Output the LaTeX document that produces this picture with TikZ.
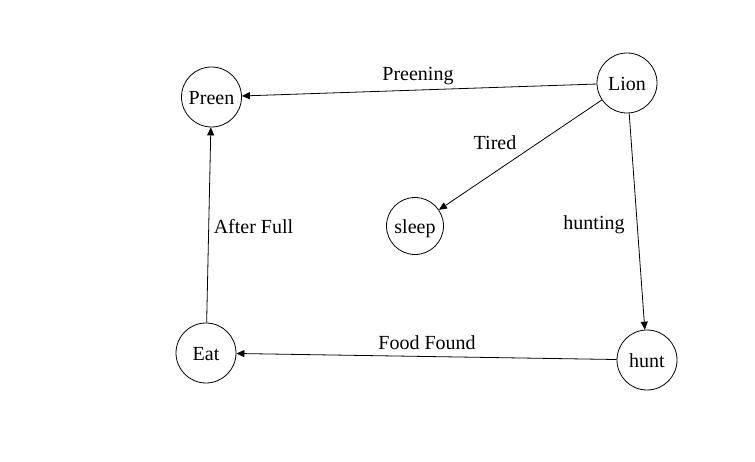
\documentclass[tikz,border=0pt]{standalone}
\usepackage{fontspec}
\setmainfont{Liberation Serif}
\usetikzlibrary{arrows.meta}
\begin{document}
\begin{tikzpicture}[x=1pt,y=-1pt,
  state/.style={draw,circle,minimum size=60pt,inner sep=0pt,line width=0.8pt,font=\fontsize{20}{22}\selectfont,text height=15pt,text depth=0pt},
  edge/.style={line width=0.8pt,-{Triangle[length=8pt,width=7pt]}},
  lbl/.style={font=\fontsize{20}{22}\selectfont,inner sep=0pt}]
\useasboundingbox (0,0) rectangle (755,462);
\node[state] (preen) at (211.5,97) {Preen};
\node[state] (lion) at (627,83) {Lion};
\node[state,minimum size=57pt] (sleep) at (415,226) {sleep};
\node[state] (eat) at (206,353) {Eat};
\node[state] (hunt) at (647,360) {hunt};
\draw[edge] (lion) -- (preen);
\draw[edge] (lion) -- (sleep);
\draw[edge] (lion) -- (hunt);
\draw[edge] (hunt) -- (eat);
\draw[edge] (eat) -- (preen);
\node[lbl] (l1) at (418,76) {Preening};
\node[lbl] (l2) at (495,143) {Tired};
\node[lbl] (l3) at (594,225) {hunting};
\node[lbl] (l4) at (427,343) {Food Found};
\node[lbl] (l5) at (253.5,227) {After Full};
\end{tikzpicture}
\end{document}
